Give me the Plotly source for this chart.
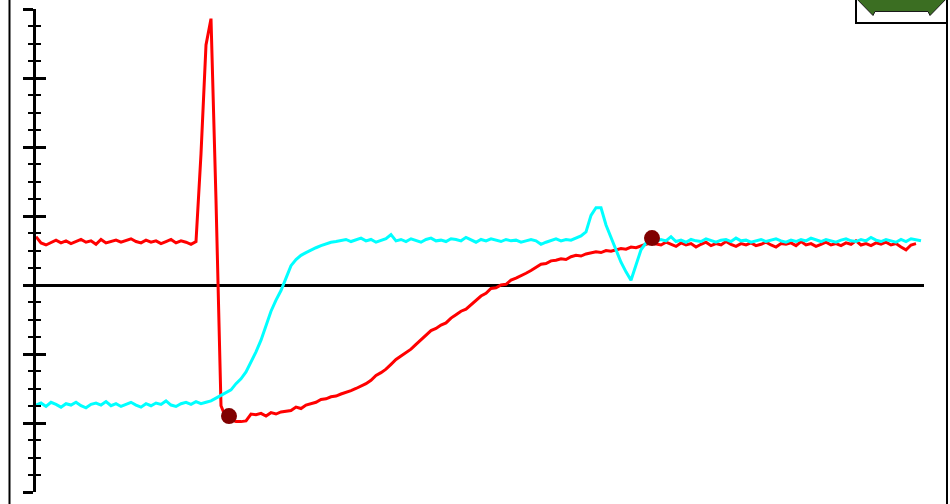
import plotly.graph_objects as go

# ---- data (time in arbitrary units, sampled every SAMPLE_DT) ----
SAMPLE_DT = 0.5

red_v = [
    # t 0.0 - 16.0
    0.70, 0.61, 0.58, 0.62, 0.65, 0.61, 0.64, 0.60, 0.63, 0.66,
    0.62, 0.64, 0.59, 0.66, 0.61, 0.63, 0.65, 0.62, 0.64, 0.67,
    0.63, 0.61, 0.65, 0.62, 0.64, 0.60, 0.63, 0.66, 0.61, 0.64,
    0.62, 0.59, 0.63,
    # t 16.5 - 19.0 (spike)
    1.90, 3.48, 3.86, 1.23, -1.75, -1.93,
    # t 19.5 - 62.0
    -1.96, -1.98, -1.98, -1.97, -1.87, -1.88, -1.86, -1.90, -1.85, -1.87,
    -1.84, -1.83, -1.82, -1.77, -1.79, -1.74, -1.72, -1.70, -1.66, -1.65,
    -1.62, -1.61, -1.58, -1.56, -1.53, -1.50, -1.47, -1.43, -1.38, -1.31,
    -1.27, -1.22, -1.15, -1.08, -1.03, -0.98, -0.93, -0.86, -0.79, -0.72,
    -0.66, -0.63, -0.58, -0.55, -0.48, -0.43, -0.38, -0.35, -0.29, -0.22,
    -0.16, -0.12, -0.05, -0.04, 0.00, 0.01, 0.07, 0.10, 0.13, 0.17,
    0.21, 0.25, 0.30, 0.31, 0.35, 0.36, 0.38, 0.37, 0.41, 0.43,
    0.42, 0.45, 0.46, 0.48, 0.47, 0.50, 0.49, 0.51, 0.53, 0.52,
    0.55, 0.54, 0.57, 0.59, 0.61, 0.60,
    # t 62.5 - 88.0
    0.58, 0.62, 0.59, 0.56, 0.61, 0.58, 0.60, 0.55, 0.59, 0.62,
    0.57, 0.60, 0.58, 0.63, 0.59, 0.56, 0.60, 0.58, 0.61, 0.57,
    0.59, 0.62, 0.58, 0.55, 0.60, 0.59, 0.61, 0.57, 0.63, 0.58,
    0.60, 0.56, 0.59, 0.62, 0.58, 0.60, 0.57, 0.61, 0.59, 0.64,
    0.58, 0.60, 0.57, 0.61, 0.59, 0.62, 0.58, 0.60, 0.55, 0.51,
    0.58, 0.60,
]

cyan_v = [
    # t 0.0 - 16.0
    -1.74, -1.71, -1.76, -1.70, -1.73, -1.77, -1.72, -1.74, -1.70, -1.75,
    -1.78, -1.73, -1.71, -1.74, -1.69, -1.75, -1.72, -1.76, -1.73, -1.70,
    -1.74, -1.77, -1.72, -1.75, -1.71, -1.73, -1.68, -1.74, -1.76, -1.72,
    -1.70, -1.73, -1.69,
    # t 16.5 - 30.5 (rise)
    -1.72, -1.70, -1.68, -1.64, -1.60, -1.57, -1.52, -1.43, -1.36, -1.26,
    -1.12, -0.97, -0.80, -0.60, -0.38, -0.22, -0.08, 0.10, 0.28, 0.37,
    0.43, 0.47, 0.51, 0.54, 0.57, 0.60, 0.62, 0.63, 0.64,
    # t 31.0 - 53.5
    0.66, 0.63, 0.65, 0.68, 0.64, 0.66, 0.62, 0.65, 0.67, 0.73,
    0.64, 0.66, 0.63, 0.67, 0.65, 0.62, 0.66, 0.68, 0.64, 0.65,
    0.63, 0.67, 0.66, 0.64, 0.69, 0.65, 0.62, 0.66, 0.64, 0.67,
    0.65, 0.63, 0.66, 0.64, 0.65, 0.62, 0.64, 0.66, 0.64, 0.59,
    0.62, 0.65, 0.67, 0.64, 0.66, 0.65,
    # t 54.0 - 61.5 (bump and dip)
    0.68, 0.71, 0.77, 1.01, 1.12, 1.12, 0.87, 0.68, 0.51, 0.33,
    0.19, 0.07, 0.29, 0.51, 0.61, 0.65,
    # t 62.0 - 88.5
    0.63, 0.66, 0.64, 0.70, 0.63, 0.65, 0.62, 0.66, 0.64, 0.63,
    0.67, 0.64, 0.62, 0.65, 0.66, 0.63, 0.68, 0.64, 0.65, 0.62,
    0.64, 0.66, 0.63, 0.65, 0.67, 0.64, 0.62, 0.65, 0.63, 0.66,
    0.64, 0.68, 0.65, 0.63, 0.66, 0.64, 0.62, 0.65, 0.67, 0.64,
    0.63, 0.66, 0.64, 0.69, 0.65, 0.63, 0.66, 0.64, 0.62, 0.66,
    0.63, 0.67, 0.65, 0.64,
]

marker_t = [19.3, 61.6]
marker_v = [-1.90, 0.68]

y_ticks = [-3, -2, -1, 0, 1, 2, 3, 4]

red_t = [i * SAMPLE_DT for i in range(len(red_v))]
cyan_t = [i * SAMPLE_DT for i in range(len(cyan_v))]

W, H = 950, 504

fig = go.Figure()
fig.add_trace(go.Scatter(x=red_t, y=red_v, mode="lines",
                         line=dict(color="#ff0000", width=3), hoverinfo="skip"))
fig.add_trace(go.Scatter(x=cyan_t, y=cyan_v, mode="lines",
                         line=dict(color="#00ffff", width=3), hoverinfo="skip"))
fig.add_trace(go.Scatter(x=marker_t, y=marker_v, mode="markers", yaxis="y2",
                         marker=dict(color="#800000", size=16), hoverinfo="skip"))

y_dom = [(H - 492) / H, (H - 9) / H]
common_y = dict(domain=y_dom, range=[y_ticks[0], y_ticks[-1]], tickvals=y_ticks,
                showticklabels=False, showgrid=False, tickcolor="black")

fig.update_layout(
    width=W, height=H,
    margin=dict(l=0, r=0, t=0, b=0),
    paper_bgcolor="white", plot_bgcolor="white",
    showlegend=False,
    xaxis=dict(domain=[36 / W, 924 / W], range=[0, 88.8], visible=False),
    yaxis=dict(**common_y, showline=True, linecolor="black", linewidth=3,
               ticks="outside", ticklen=10, tickwidth=3,
               minor=dict(ticks="outside", ticklen=5, tickwidth=2,
                          tickcolor="black", dtick=0.25, showgrid=False),
               zeroline=True, zerolinecolor="black", zerolinewidth=3),
    yaxis2=dict(**common_y, overlaying="y", anchor="x", side="left",
                showline=False, zeroline=False,
                ticks="inside", ticklen=10, tickwidth=3,
                minor=dict(ticks="inside", ticklen=5, tickwidth=2,
                           tickcolor="black", dtick=0.25, showgrid=False)),
)

def px(x):
    return x / W

def py(y):
    return 1 - y / H

shapes = [
    # left and right frame lines
    dict(type="line", xref="paper", yref="paper", x0=px(9.5), x1=px(9.5),
         y0=-0.02, y1=1.02, line=dict(color="black", width=2)),
    dict(type="line", xref="paper", yref="paper", x0=px(947), x1=px(947),
         y0=-0.02, y1=1.02, line=dict(color="black", width=2)),
    # top-right box
    dict(type="rect", xref="paper", yref="paper", x0=px(856), x1=px(947),
         y0=py(23), y1=py(-10), fillcolor="white", line=dict(color="black", width=2)),
    # green double arrow (cropped)
    dict(type="path", xref="paper", yref="paper",
         path=(f"M {px(853)},{py(-5)} L {px(873)},{py(15.5)} L {px(875)},{py(11.5)} "
               f"L {px(928)},{py(11.5)} L {px(930)},{py(15.5)} L {px(950)},{py(-5)} Z"),
         fillcolor="#3b6e22", line=dict(color="#1a1a1a", width=1)),
]
fig.update_layout(shapes=shapes)

fig.write_html(
    "out.html",
    config={"displayModeBar": False},
    post_script="document.body.style.margin='0';document.body.style.overflow='hidden';",
)
